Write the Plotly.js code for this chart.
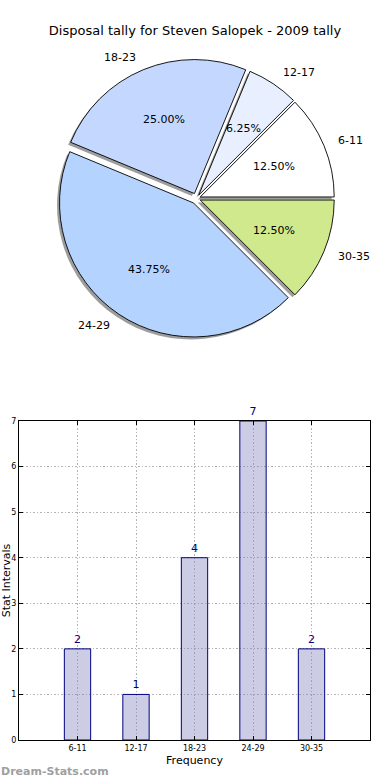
<!DOCTYPE html>
<html>
<head>
<meta charset="utf-8">
<script src="https://cdn.plot.ly/plotly-3.0.1.min.js"></script>
<style>html,body{margin:0;padding:0;background:#fff;}#chart{width:390px;height:780px;}</style>
</head>
<body>
<div id="chart"></div>
<script>
// ---- data ----
const categories = ['6-11', '12-17', '18-23', '24-29', '30-35'];
const counts = [2, 1, 4, 7, 2];
const sliceColors = ['#ffffff', '#e8f0ff', '#c4d8ff', '#b4d4ff', '#d0e98c'];
const pulls = [0.03, 0.03, 0.04, 0.04, 0.03];
const yTicks = [0, 1, 2, 3, 4, 5, 6, 7];
const titleText = 'Disposal tally for Steven Salopek - 2009 tally';

// ---- layout geometry (pixels) ----
const W = 390, H = 780;
const FONT = 'DejaVu Sans, sans-serif';
const cx = 196.5, cy = 198.5, R = 134;
const maxPull = Math.max(...pulls);
const half = R * (1 + maxPull);
const pieX = [(cx - half) / W, (cx + half) / W];
const pieY = [1 - (cy + half) / H, 1 - (cy - half) / H];
const sh = 2.5; // shadow offset px (left, down)
const lab = 1.4; // half-extent of the hidden label axes, in pie radii
const labX = [(cx - lab * R) / W, (cx + lab * R) / W];
const labY = [1 - (cy + lab * R) / H, 1 - (cy - lab * R) / H];

const total = counts.reduce((a, b) => a + b, 0);
// first slice begins at 3 o'clock and runs counter-clockwise
const rot = 90 - counts[0] / total * 360;

const shadow = {
  type: 'pie', values: counts, labels: categories, sort: false,
  direction: 'counterclockwise', rotation: rot, pull: pulls,
  marker: {colors: counts.map(() => 'rgba(60,60,60,0.5)'), line: {width: 0}},
  textinfo: 'none', hoverinfo: 'none', showlegend: false,
  domain: {x: [pieX[0] - sh / W, pieX[1] - sh / W], y: [pieY[0] - sh / H, pieY[1] - sh / H]}
};
const pie = {
  type: 'pie', values: counts, labels: categories, sort: false,
  direction: 'counterclockwise', rotation: rot, pull: pulls,
  marker: {colors: sliceColors, line: {color: '#000', width: 0.9}},
  textinfo: 'none', hoverinfo: 'none', showlegend: false,
  domain: {x: pieX, y: pieY}
};
const bars = {
  type: 'bar', x: categories, y: counts, xaxis: 'x', yaxis: 'y',
  width: 0.45,
  marker: {color: 'rgba(128,128,190,0.4)', line: {color: '#000080', width: 1}},
  text: counts.map(String), textposition: 'outside', cliponaxis: false,
  textfont: {family: FONT, size: 11, color: '#000080'},
  hoverinfo: 'none', showlegend: false
};
const pieAxisTrace = {type: 'scatter', x: [], y: [], xaxis: 'x3', yaxis: 'y3', showlegend: false, hoverinfo: 'none'};

// ---- pie labels through a hidden axis pair matched to the pie ----
const annotations = [];
let cum = 0;
counts.forEach((v, i) => {
  const mid = (cum + v / 2) / total;
  cum += v;
  const th = 2 * Math.PI * mid;
  const c = Math.cos(th), s = Math.sin(th);
  const rp = 0.6 + pulls[i], rl = 1.1 + pulls[i];
  annotations.push({
    xref: 'x3', yref: 'y3', x: rp * c, y: rp * s, showarrow: false,
    text: (v / total * 100).toFixed(2) + '%', xanchor: 'center', yanchor: 'middle',
    font: {family: FONT, size: 11, color: '#000'}
  });
  annotations.push({
    xref: 'x3', yref: 'y3', x: rl * c, y: rl * s, showarrow: false,
    text: categories[i], xanchor: c > 0 ? 'left' : 'right', yanchor: 'middle',
    font: {family: FONT, size: 11, color: '#000'}
  });
});
annotations.push({
  xref: 'paper', yref: 'paper', x: -0.003, y: 1 - 771 / H, xanchor: 'left', yanchor: 'middle',
  showarrow: false, text: '<b>Dream-Stats.com</b>',
  font: {family: FONT, size: 11, color: '#a0a0a0'}
});

const gridStyle = {showgrid: true, gridcolor: '#b4b4b4', griddash: '1.5px,2px', gridwidth: 1};

const layout = {
  width: W, height: H,
  margin: {l: 0, r: 0, t: 0, b: 0},
  paper_bgcolor: '#fff', plot_bgcolor: '#fff',
  font: {family: FONT, color: '#000'},
  title: {text: titleText, font: {family: FONT, size: 13, color: '#000'},
          x: 0.5, xref: 'paper', y: 1 - 30 / H, yref: 'container', xanchor: 'center', yanchor: 'middle'},
  xaxis: Object.assign({
    domain: [19 / W, 370 / W], anchor: 'y', type: 'category', range: [-1, 5],
    showline: true, linecolor: '#000', linewidth: 1, mirror: 'ticks',
    ticks: 'inside', ticklen: 4, tickcolor: '#000',
    tickfont: {family: FONT, size: 8, color: '#000'},
    title: {text: 'Frequency', font: {family: FONT, size: 11, color: '#000'}, standoff: 4},
    automargin: false, zeroline: false, fixedrange: true
  }, gridStyle),
  yaxis: Object.assign({
    domain: [1 - 740 / H, 1 - 421 / H], anchor: 'x', range: [0, 7],
    tickvals: yTicks, ticktext: yTicks.map(String),
    showline: true, linecolor: '#000', linewidth: 1, mirror: 'ticks',
    ticks: 'inside', ticklen: 4, tickcolor: '#000',
    tickfont: {family: FONT, size: 8, color: '#000'},
    title: {text: 'Stat Intervals', font: {family: FONT, size: 11, color: '#000'}, standoff: 0},
    automargin: false, zeroline: false, fixedrange: true
  }, gridStyle),
  xaxis3: {domain: labX, anchor: 'y3', range: [-lab, lab], visible: false, fixedrange: true},
  yaxis3: {domain: labY, anchor: 'x3', range: [-lab, lab], visible: false, fixedrange: true},
  annotations: annotations,
  showlegend: false
};

Plotly.newPlot('chart', [pieAxisTrace, shadow, pie, bars], layout, {displayModeBar: false, staticPlot: true});
</script>
</body>
</html>
